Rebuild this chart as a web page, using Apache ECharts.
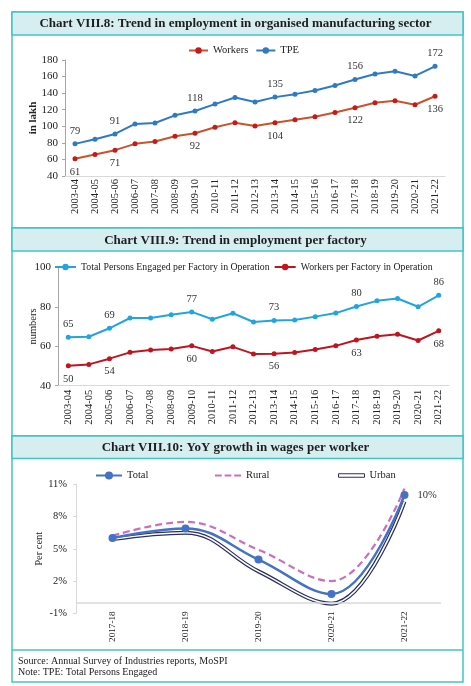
<!DOCTYPE html>
<html>
<head>
<meta charset="utf-8">
<script src="https://cdn.jsdelivr.net/npm/echarts@6/dist/echarts.min.js"></script>
<style>
html,body{margin:0;padding:0;background:#fff;}
#c{width:471px;height:686px;}
</style>
</head>
<body>
<div id="c"></div>
<script>
// ---------- data ----------
var years = ['2003-04','2004-05','2005-06','2006-07','2007-08','2008-09','2009-10','2010-11','2011-12','2012-13','2013-14','2014-15','2015-16','2016-17','2017-18','2018-19','2019-20','2020-21','2021-22'];
var workers = [60.8, 66, 71.2, 78.8, 81.6, 88, 91.6, 98.8, 104.4, 100.4, 104.2, 107.8, 111.4, 116.6, 122.4, 128.4, 130.8, 126, 136.2];
var tpe = [78.8, 84.4, 90.8, 102.8, 104, 113.2, 118.4, 126.8, 134.8, 129.2, 135.2, 138.8, 143.2, 149.2, 156.4, 163.2, 166.4, 160.8, 172.4];
var labelIdx = [0, 2, 6, 10, 14, 18];

var tpePerFactory = [64.6, 64.8, 69.1, 74.3, 74.3, 76, 77.4, 73.7, 76.7, 72.3, 73, 73.3, 75, 76.8, 80.1, 83, 84.2, 80, 85.8];
var workersPerFactory = [50.1, 50.8, 53.7, 56.9, 58.1, 58.6, 60.2, 57.3, 59.7, 56.1, 56.2, 56.8, 58.3, 60.2, 63.2, 65.1, 66.1, 62.9, 67.8];

var wageYears = ['2017-18','2018-19','2019-20','2020-21','2021-22'];
var wageTotal = [6.0, 6.9, 4.0, 0.8, 10.0];
var wageRural = [6.2, 7.5, 4.9, 2.0, 10.6];
var wageUrban = [5.9, 6.5, 2.9, -0.1, 9.4];

var titles = [
  'Chart VIII.8: Trend in employment in organised manufacturing sector',
  'Chart VIII.9: Trend in employment per factory',
  'Chart VIII.10: YoY growth in wages per worker'
];
var sourceText = 'Source: Annual Survey of Industries reports, MoSPI';
var noteText = 'Note: TPE: Total Persons Engaged';

// ---------- helpers ----------
var SERIF = 'Liberation Serif';
var TEAL = '#45c3c4';
var BAND = '#d6eef0';
var TXT = '#222';
var SMOOTH = 0.4;

function labeled(arr, pos) {
  return arr.map(function (v, i) {
    var show = labelIdx.indexOf(i) >= 0;
    return { value: v, label: { show: show, position: pos } };
  });
}

var lblStyle = { fontFamily: SERIF, fontSize: 10.5, color: '#333', distance: 5,
  formatter: function (p) { return Math.round(p.value); } };

function catAxis(grid, data, fs, margin) {
  return {
    type: 'category', gridIndex: grid, data: data, boundaryGap: true,
    axisLine: { show: true, lineStyle: { color: '#d9d9d9', width: 1 } },
    axisTick: { show: false },
    axisLabel: { rotate: 90, interval: 0, fontFamily: SERIF, fontSize: fs, color: TXT, margin: margin }
  };
}

var chart = echarts.init(document.getElementById('c'), null, { renderer: 'canvas' });

var option = {
  animation: false,
  backgroundColor: '#fff',
  graphic: [
    { type: 'rect', shape: { x: 12, y: 12, width: 451, height: 216 }, style: { fill: 'none', stroke: TEAL, lineWidth: 1.5 }, z: 0 },
    { type: 'rect', shape: { x: 12, y: 12, width: 451, height: 23 }, style: { fill: BAND, stroke: TEAL, lineWidth: 1.5 }, z: 0 },
    { type: 'rect', shape: { x: 12, y: 228, width: 451, height: 208 }, style: { fill: 'none', stroke: TEAL, lineWidth: 1.5 }, z: 0 },
    { type: 'rect', shape: { x: 12, y: 228, width: 451, height: 23 }, style: { fill: BAND, stroke: TEAL, lineWidth: 1.5 }, z: 0 },
    { type: 'rect', shape: { x: 12, y: 436, width: 451, height: 246 }, style: { fill: 'none', stroke: TEAL, lineWidth: 1.5 }, z: 0 },
    { type: 'rect', shape: { x: 12, y: 436, width: 451, height: 22.5 }, style: { fill: BAND, stroke: TEAL, lineWidth: 1.5 }, z: 0 },
    { type: 'line', shape: { x1: 12, y1: 650, x2: 463, y2: 650 }, style: { stroke: TEAL, lineWidth: 1.5 }, z: 0 }
  ],
  title: [
    { text: titles[0], left: 'center', top: 16, padding: 0, textStyle: { fontFamily: SERIF, fontWeight: 'bold', fontSize: 13, color: '#1e1e1e', lineHeight: 16 } },
    { text: titles[1], left: 'center', top: 232.5, padding: 0, textStyle: { fontFamily: SERIF, fontWeight: 'bold', fontSize: 13, color: '#1e1e1e', lineHeight: 16 } },
    { text: titles[2], left: 'center', top: 439.5, padding: 0, textStyle: { fontFamily: SERIF, fontWeight: 'bold', fontSize: 13, color: '#1e1e1e', lineHeight: 16 } },
    { text: sourceText, left: 18, top: 655, padding: 0, textStyle: { fontFamily: SERIF, fontWeight: 'normal', fontSize: 10, color: TXT, lineHeight: 12 } },
    { text: noteText, left: 18, top: 666, padding: 0, textStyle: { fontFamily: SERIF, fontWeight: 'normal', fontSize: 10, color: TXT, lineHeight: 12 } }
  ],
  legend: [
    { data: ['Workers', 'TPE'], left: 188, top: 45, itemWidth: 19, itemHeight: 8, itemGap: 7, padding: 0,
      textStyle: { fontFamily: SERIF, fontSize: 10.5, color: TXT } },
    { data: ['Total Persons Engaged per Factory in Operation', 'Workers per Factory in Operation'], left: 54, top: 262, itemWidth: 21, itemHeight: 8, itemGap: 4, padding: 0,
      textStyle: { fontFamily: SERIF, fontSize: 9.8, color: TXT } },
    { data: ['Total'], left: 95, top: 470, itemWidth: 26, itemHeight: 10, padding: 0,
      textStyle: { fontFamily: SERIF, fontSize: 10.5, color: TXT } },
    { data: [{ name: 'Rural', icon: 'path://M0,0H7V2.2H0Z M10,0H17V2.2H10Z M20,0H27V2.2H20Z', itemStyle: { color: '#c86fc0' } }],
      left: 215, top: 470, itemWidth: 26, itemHeight: 10, padding: 0,
      textStyle: { fontFamily: SERIF, fontSize: 10.5, color: TXT } },
    { data: [{ name: 'Urban', icon: 'rect', itemStyle: { color: '#fff', borderColor: '#2a2f5c', borderWidth: 1 } }], left: 338, top: 470, itemWidth: 26, itemHeight: 3.5, padding: 0,
      textStyle: { fontFamily: SERIF, fontSize: 10.5, color: TXT } }
  ],
  grid: [
    { left: 65, right: 26, top: 60, height: 116 },
    { left: 58, right: 22, top: 267.3, height: 118.4 },
    { left: 76, right: 30, top: 484.3, height: 129 }
  ],
  xAxis: [
    catAxis(0, years, 10.5, 3),
    catAxis(1, years, 10.5, 4),
    (function () {
      var a = catAxis(2, wageYears, 9.2, -2);
      a.axisLine = { show: false, onZero: false };
      return a;
    })()
  ],
  yAxis: [
    { type: 'value', gridIndex: 0, min: 40, max: 180, interval: 20,
      axisLine: { show: true, lineStyle: { color: '#a6a6a6' } },
      axisTick: { show: true, length: 3, lineStyle: { color: '#a6a6a6' } },
      splitLine: { show: false },
      axisLabel: { fontFamily: SERIF, fontSize: 11, color: TXT, margin: 7 },
      name: 'in lakh', nameLocation: 'middle', nameRotate: 90, nameGap: 26, nameMoveOverlap: false,
      nameTextStyle: { fontFamily: SERIF, fontWeight: 'bold', fontSize: 11, color: TXT } },
    { type: 'value', gridIndex: 1, min: 40, max: 100, interval: 20,
      axisLine: { show: true, lineStyle: { color: '#a6a6a6' } },
      axisTick: { show: true, length: 3, lineStyle: { color: '#a6a6a6' } },
      splitLine: { show: false },
      axisLabel: { fontFamily: SERIF, fontSize: 11, color: TXT, margin: 7 },
      name: 'numbers', nameLocation: 'middle', nameRotate: 90, nameGap: 19, nameMoveOverlap: false,
      nameTextStyle: { fontFamily: SERIF, fontSize: 10.5, color: TXT } },
    { type: 'value', gridIndex: 2, min: -1, max: 11, interval: 3,
      axisLine: { show: true, lineStyle: { color: '#d9d9d9' } },
      axisTick: { show: true, length: 3, lineStyle: { color: '#d9d9d9' } },
      splitLine: { show: false },
      axisLabel: { fontFamily: SERIF, fontSize: 10.5, color: TXT, margin: 9, formatter: '{value}%' },
      name: 'Per cent', nameLocation: 'middle', nameRotate: 90, nameGap: 31, nameMoveOverlap: false,
      nameTextStyle: { fontFamily: SERIF, fontSize: 10.5, color: TXT } }
  ],
  series: [
    { name: 'Workers', type: 'line', xAxisIndex: 0, yAxisIndex: 0, data: labeled(workers, 'bottom'),
      symbol: 'circle', symbolSize: 5, color: '#c9532b',
      lineStyle: { color: '#c9532b', width: 2 }, itemStyle: { color: '#c41a1a' },
      label: lblStyle },
    { name: 'TPE', type: 'line', xAxisIndex: 0, yAxisIndex: 0, data: labeled(tpe, 'top'),
      symbol: 'circle', symbolSize: 5, color: '#2f7ac2',
      lineStyle: { color: '#2f7ac2', width: 2 }, itemStyle: { color: '#2f7ac2' },
      label: lblStyle },
    { name: 'Total Persons Engaged per Factory in Operation', type: 'line', xAxisIndex: 1, yAxisIndex: 1, data: labeled(tpePerFactory, 'top'),
      symbol: 'circle', symbolSize: 5, color: '#22a5de',
      lineStyle: { color: '#22a5de', width: 2 }, itemStyle: { color: '#22a5de' },
      label: lblStyle },
    { name: 'Workers per Factory in Operation', type: 'line', xAxisIndex: 1, yAxisIndex: 1, data: labeled(workersPerFactory, 'bottom'),
      symbol: 'circle', symbolSize: 5, color: '#c0141e',
      lineStyle: { color: '#c0141e', width: 2 }, itemStyle: { color: '#c0141e' },
      label: lblStyle },
    { name: 'Urban', type: 'line', xAxisIndex: 2, yAxisIndex: 2, data: wageUrban, smooth: SMOOTH,
      symbol: 'none', color: '#2a2f5c', lineStyle: { color: '#2a2f5c', width: 4 }, z: 2 },
    { name: 'Urban inner', type: 'line', xAxisIndex: 2, yAxisIndex: 2, data: wageUrban, smooth: SMOOTH,
      symbol: 'none', color: '#fff', lineStyle: { color: '#ffffff', width: 1.6 }, z: 3 },
    { name: 'Rural', type: 'line', xAxisIndex: 2, yAxisIndex: 2, data: wageRural, smooth: SMOOTH,
      symbol: 'none', color: '#c86fc0', lineStyle: { color: '#c86fc0', width: 2.2, type: [7, 4] }, z: 4 },
    { name: 'Total', type: 'line', xAxisIndex: 2, yAxisIndex: 2, smooth: SMOOTH,
      data: wageTotal.map(function (v, i) {
        return { value: v, label: { show: i === wageTotal.length - 1 } };
      }),
      symbol: 'circle', symbolSize: 8, color: '#4472c4',
      lineStyle: { color: '#4472c4', width: 2.5 }, itemStyle: { color: '#4472c4' },
      label: { position: 'right', distance: 9, fontFamily: SERIF, fontSize: 10.5, color: '#333',
        formatter: function (p) { return Math.round(p.value) + '%'; } },
      markLine: { silent: true, symbol: 'none', label: { show: false },
        lineStyle: { color: '#d9d9d9', width: 1.5, type: 'solid' },
        data: [{ yAxis: 0 }] },
      z: 5 }
  ]
};
chart.setOption(option);
</script>
</body>
</html>
